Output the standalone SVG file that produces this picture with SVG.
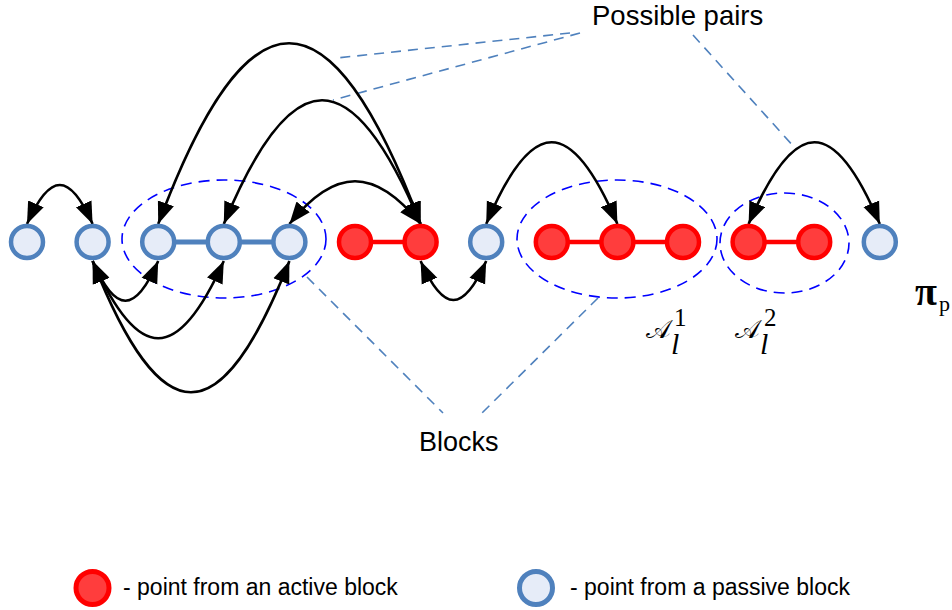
<svg xmlns="http://www.w3.org/2000/svg" width="952" height="610" viewBox="0 0 952 610">
<defs>
<marker id="ah" markerUnits="userSpaceOnUse" markerWidth="24" markerHeight="18" refX="22" refY="9" orient="auto-start-reverse" viewBox="0 0 24 18">
<path d="M0,0.5 L22,9 L0,17.5 z" fill="#000"/>
</marker>
<style>
.pas{fill:#E6ECF8;stroke:#4F81BD;stroke-width:4.5}
.act{fill:#FF3D3D;stroke:#FF0000;stroke-width:4.5}
.arc{fill:none;stroke:#000;stroke-width:2.6;marker-start:url(#ah);marker-end:url(#ah)}
.blk{fill:none;stroke:#0000FF;stroke-width:1.6;stroke-dasharray:11 7}
.ldr{fill:none;stroke:#4F81BD;stroke-width:1.6;stroke-dasharray:10 7}
.lbl{font-family:"Liberation Sans",Arial,sans-serif;fill:#000}
.math{font-family:"Liberation Serif","DejaVu Serif",serif;fill:#000}
</style>
</defs>
<rect width="952" height="610" fill="#fff"/>

<g id="blocks">
<ellipse class="blk" cx="224" cy="239" rx="102" ry="59"/>
<ellipse class="blk" cx="617" cy="239" rx="100" ry="59"/>
<ellipse class="blk" cx="784.5" cy="243" rx="64.5" ry="50"/>
</g>

<g id="leaders">
<line class="ldr" x1="570" y1="33" x2="337" y2="58"/>
<line class="ldr" x1="580" y1="33" x2="333" y2="100"/>
<line class="ldr" x1="693" y1="35" x2="795" y2="148"/>
<line class="ldr" x1="307" y1="277" x2="443" y2="413"/>
<line class="ldr" x1="598" y1="298" x2="482" y2="413"/>
</g>

<g id="links">
<line x1="158.2" y1="242" x2="289.4" y2="242" stroke="#4F81BD" stroke-width="5"/>
<line x1="355" y1="242" x2="420.6" y2="242" stroke="#FF0000" stroke-width="4.5"/>
<line x1="551.8" y1="242" x2="683" y2="242" stroke="#FF0000" stroke-width="4.5"/>
<line x1="748.6" y1="242" x2="814.2" y2="242" stroke="#FF0000" stroke-width="4.5"/>
</g>

<g id="connectors">
<path class="arc" d="M27,224 C50,172 69.6,172 92.6,224"/>
<path class="arc" d="M158.2,224 C248,-17 330,-17 420.6,224"/>
<path class="arc" d="M223.8,224 C292,59 352,59 420.6,224"/>
<path class="arc" d="M289.4,224 C335,167 375,167 420.6,224"/>
<path class="arc" d="M486.2,224 C532,115 571,115 617.4,224"/>
<path class="arc" d="M748.6,224 C795,115 834,115 879.8,224"/>
<path class="arc" d="M92.6,261 C115.6,314 135.2,314 158.2,261"/>
<path class="arc" d="M92.6,261 C138.6,364 177.8,364 223.8,261"/>
<path class="arc" d="M92.6,261 C161.6,436 220.4,436 289.4,261"/>
<path class="arc" d="M420.6,261 C443.6,313 463.2,313 486.2,261"/>
</g>

<g id="n1"><circle class="pas" cx="27" cy="242" r="16"/></g>
<g id="n2"><circle class="pas" cx="92.6" cy="242" r="16"/></g>
<g id="n3"><circle class="pas" cx="158.2" cy="242" r="16"/></g>
<g id="n4"><circle class="pas" cx="223.8" cy="242" r="16"/></g>
<g id="n5"><circle class="pas" cx="289.4" cy="242" r="16"/></g>
<g id="n6"><circle class="act" cx="355" cy="242" r="16"/></g>
<g id="n7"><circle class="act" cx="420.6" cy="242" r="16"/></g>
<g id="n8"><circle class="pas" cx="486.2" cy="242" r="16"/></g>
<g id="n9"><circle class="act" cx="551.8" cy="242" r="16"/></g>
<g id="n10"><circle class="act" cx="617.4" cy="242" r="16"/></g>
<g id="n11"><circle class="act" cx="683" cy="242" r="16"/></g>
<g id="n12"><circle class="act" cx="748.6" cy="242" r="16"/></g>
<g id="n13"><circle class="act" cx="814.2" cy="242" r="16"/></g>
<g id="n14"><circle class="pas" cx="879.8" cy="242" r="16"/></g>

<g id="labels">
<text class="lbl" x="592" y="25" font-size="27.5">Possible pairs</text>
<text class="lbl" x="419" y="451" font-size="27">Blocks</text>
<text class="math" x="646" y="338" font-size="26">𝒜<tspan x="674" y="326" font-size="25">1</tspan><tspan x="671" y="354" font-size="30" font-style="italic">l</tspan></text>
<text class="math" x="735" y="338" font-size="26">𝒜<tspan x="764" y="326" font-size="25">2</tspan><tspan x="760" y="354" font-size="30" font-style="italic">l</tspan></text>
<text class="math" x="915" y="305" font-size="40" font-weight="bold">π<tspan x="939" y="311" font-size="22" font-weight="normal">p</tspan></text>
</g>

<g id="legend">
<circle class="act" cx="92.5" cy="588" r="16.5" style="stroke-width:5"/>
<text class="lbl" x="123" y="595" font-size="23">- point from an active block</text>
<circle class="pas" cx="536" cy="588" r="16.5" style="stroke-width:5"/>
<text class="lbl" x="570" y="595" font-size="23">- point from a passive block</text>
</g>
</svg>
